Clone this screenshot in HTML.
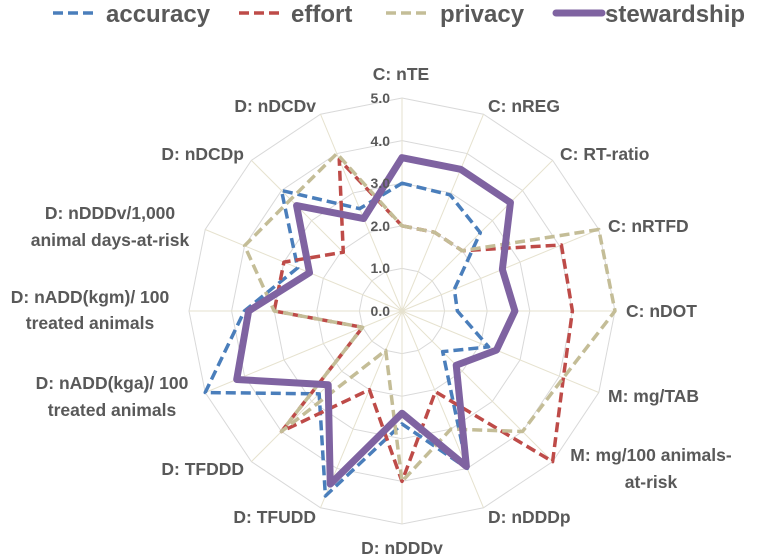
<!DOCTYPE html>
<html><head><meta charset="utf-8">
<style>
html,body{margin:0;padding:0;background:#fff;}
svg{display:block;}
text{font-family:"Liberation Sans",sans-serif;font-weight:bold;fill:#595959;}
.c{font-size:17.5px;}
.t{font-size:14px;}
.l{font-size:24px;}
</style></head><body>
<svg id="s" width="757" height="556" viewBox="0 0 757 556" xmlns="http://www.w3.org/2000/svg">
<g id="grid"></g>
<g id="series"></g>
<g>
<text class="t" x="390" y="316" text-anchor="end">0.0</text>
<text class="t" x="390" y="273" text-anchor="end">1.0</text>
<text class="t" x="390" y="231" text-anchor="end">2.0</text>
<text class="t" x="390" y="188" text-anchor="end">3.0</text>
<text class="t" x="390" y="146" text-anchor="end">4.0</text>
<text class="t" x="390" y="103" text-anchor="end">5.0</text>
</g>
<g class="cats">
<text class="c" x="401" y="80" text-anchor="middle">C: nTE</text>
<text class="c" x="488" y="112">C: nREG</text>
<text class="c" x="560" y="160">C: RT-ratio</text>
<text class="c" x="608" y="232">C: nRTFD</text>
<text class="c" x="626" y="317">C: nDOT</text>
<text class="c" x="608" y="402">M: mg/TAB</text>
<text class="c" x="651" y="461" text-anchor="middle">M: mg/100 animals-</text>
<text class="c" x="651" y="488" text-anchor="middle">at-risk</text>
<text class="c" x="488" y="523">D: nDDDp</text>
<text class="c" x="402" y="554" text-anchor="middle">D: nDDDv</text>
<text class="c" x="316" y="523" text-anchor="end">D: TFUDD</text>
<text class="c" x="244" y="475" text-anchor="end">D: TFDDD</text>
<text class="c" x="112" y="389" text-anchor="middle">D: nADD(kga)/ 100</text>
<text class="c" x="112" y="416" text-anchor="middle">treated animals</text>
<text class="c" x="90" y="303" text-anchor="middle">D: nADD(kgm)/ 100</text>
<text class="c" x="90" y="329" text-anchor="middle">treated animals</text>
<text class="c" x="110" y="219" text-anchor="middle">D: nDDDv/1,000</text>
<text class="c" x="110" y="246" text-anchor="middle">animal days-at-risk</text>
<text class="c" x="244" y="160" text-anchor="end">D: nDCDp</text>
<text class="c" x="316" y="112" text-anchor="end">D: nDCDv</text>
</g>
<g>
<line x1="53" y1="13" x2="97" y2="13" stroke="#4A7EBB" stroke-width="3.5" stroke-dasharray="10,5"/>
<text class="l" x="106" y="22">accuracy</text>
<line x1="239" y1="13" x2="283" y2="13" stroke="#BE4B48" stroke-width="3.5" stroke-dasharray="10,5"/>
<text class="l" x="291" y="22">effort</text>
<line x1="386" y1="13" x2="430" y2="13" stroke="#C4BD97" stroke-width="3.5" stroke-dasharray="10,5"/>
<text class="l" x="440" y="22">privacy</text>
<line x1="556" y1="13" x2="602" y2="13" stroke="#7F63A1" stroke-width="7" stroke-linecap="round"/>
<text class="l" x="605" y="22">stewardship</text>
</g>
</svg>
<script>
var cx=402,cy=311,u=42.6,N=16,ns="http://www.w3.org/2000/svg";
function pt(i,v){var a=(-90+22.5*i)*Math.PI/180;return [cx+v*u*Math.cos(a),cy+v*u*Math.sin(a)];}
var g=document.getElementById('grid'),s=document.getElementById('series');
for(var r=1;r<=5;r++){var p=[];for(var i=0;i<N;i++)p.push(pt(i,r).join(','));
var e=document.createElementNS(ns,'polygon');e.setAttribute('points',p.join(' '));e.setAttribute('fill','none');e.setAttribute('stroke','#D9D9D9');e.setAttribute('stroke-width','1');g.appendChild(e);}
for(var i=0;i<N;i++){var q=pt(i,5);var l=document.createElementNS(ns,'line');l.setAttribute('x1',cx);l.setAttribute('y1',cy);l.setAttribute('x2',q[0]);l.setAttribute('y2',q[1]);l.setAttribute('stroke','#E6E2CF');l.setAttribute('stroke-width','1');g.appendChild(l);}
var data=[
[[3.0,2.95,2.6,1.33,1.3,2.2,1.35,4.0,2.65,4.7,2.75,5.0,3.7,2.65,4.0,2.6],'#4A7EBB',3.5,'10,5'],
[[2.0,2.0,2.0,4.05,4.0,4.1,5.0,2.05,4.0,2.0,4.0,1.0,3.0,3.0,1.95,3.85],'#BE4B48',3.5,'10,5'],
[[2.0,2.0,2.0,5.0,5.0,4.1,4.0,3.0,4.0,1.0,4.0,1.0,3.0,4.0,3.7,4.0],'#C4BD97',3.5,'10,5'],
[[3.6,3.6,3.6,2.55,2.65,2.4,1.8,3.95,2.4,4.4,2.45,4.2,3.6,2.35,3.5,2.35],'#7F63A1',7,'']
];
data.forEach(function(d){var p=d[0].map(function(v,i){return pt(i,v).join(',');});
var e=document.createElementNS(ns,'polygon');e.setAttribute('points',p.join(' '));e.setAttribute('fill','none');e.setAttribute('stroke',d[1]);e.setAttribute('stroke-width',d[2]);e.setAttribute('stroke-linejoin','round');if(d[3])e.setAttribute('stroke-dasharray',d[3]);s.appendChild(e);});
</script>
</body></html>
